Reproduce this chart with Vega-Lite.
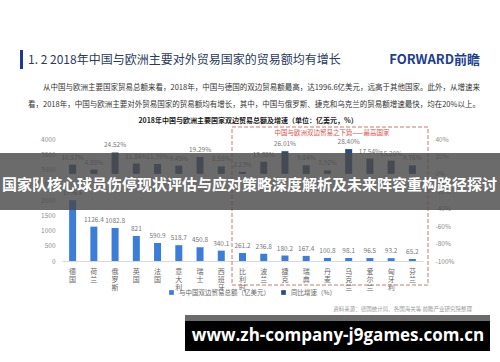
{
  "$schema": "https://vega.github.io/schema/vega-lite/v6.json",
  "width": 361,
  "height": 122,
  "autosize": "none",
  "padding": {"left": 62, "top": 139, "right": 77, "bottom": 101},
  "background": "white",
  "config": {
    "view": {"stroke": null},
    "font": "Noto Sans CJK SC",
    "axis": {"grid": false, "ticks": false, "title": null}
  },
  "data": {
    "values": [
      {"country": "德国", "trade": 1996.6, "growth": 10.57},
      {"country": "荷兰", "trade": 1126.4, "growth": 4.88},
      {"country": "俄罗斯", "trade": 1082.8, "growth": 24.52},
      {"country": "英国", "trade": 821, "growth": 11.84},
      {"country": "法国", "trade": 590.9, "growth": 11.39},
      {"country": "意大利", "trade": 518.7, "growth": 9.45},
      {"country": "瑞士", "trade": 450.8, "growth": 19.29},
      {"country": "西班牙", "trade": 340.1, "growth": 8.55},
      {"country": "比利时", "trade": 261.2, "growth": 2.23},
      {"country": "波兰", "trade": 236.8, "growth": 13.85},
      {"country": "捷克", "trade": 180.2, "growth": 26.01},
      {"country": "瑞典", "trade": 167.4, "growth": 9.84},
      {"country": "丹麦", "trade": 100.8, "growth": 3.92},
      {"country": "乌克兰", "trade": 98.1, "growth": 28.4},
      {"country": "爱尔兰", "trade": 96.5, "growth": 17.54},
      {"country": "匈牙利", "trade": 93.2, "growth": 15.2},
      {"country": "芬兰", "trade": 65.2, "growth": 9.76}
    ]
  },
  "resolve": {"scale": {"y": "independent"}, "axis": {"y": "independent"}},
  "layer": [
    {
      "layer": [
        {
          "mark": {"type": "bar", "width": 7},
          "encoding": {
            "x": {
              "field": "country", "type": "nominal", "sort": null,
              "scale": {"paddingInner": 0, "paddingOuter": 0},
              "axis": {
                "labelAngle": 0,
                "labelExpr": "split(datum.label, '')",
                "labelFontSize": 7,
                "labelLineHeight": 8,
                "labelColor": "#666666",
                "labelBaseline": "top",
                "labelPadding": 6,
                "domainColor": "#d9d9d9"
              }
            },
            "y": {
              "field": "trade", "type": "quantitative",
              "scale": {"domain": [0, 4000], "nice": false},
              "axis": {
                "orient": "left",
                "values": [0, 500, 1000, 1500, 2000, 2500, 3000, 3500, 4000],
                "format": "d",
                "domain": false,
                "labelFontSize": 6.5,
                "labelColor": "#8c8c8c",
                "labelPadding": 7
              }
            },
            "color": {
              "datum": "与中国双边贸易总额（亿美元）",
              "scale": {
                "domain": ["与中国双边贸易总额（亿美元）", "同比增速（%）"],
                "range": ["#3b7dd8", "#2d4b7c"]
              },
              "legend": {
                "orient": "none",
                "legendX": 106,
                "legendY": 150,
                "direction": "horizontal",
                "title": null,
                "symbolType": "square",
                "symbolSize": 22,
                "labelFontSize": 6.5,
                "labelColor": "#666666",
                "columnPadding": 10
              }
            }
          }
        },
        {
          "mark": {"type": "text", "baseline": "bottom", "dy": -4, "fontSize": 6.5, "color": "#777777"},
          "encoding": {
            "x": {"field": "country", "type": "nominal", "sort": null},
            "y": {
              "field": "trade", "type": "quantitative",
              "axis": {
                "orient": "left",
                "values": [0, 500, 1000, 1500, 2000, 2500, 3000, 3500, 4000],
                "format": "d",
                "domain": false,
                "labelFontSize": 6.5,
                "labelColor": "#8c8c8c",
                "labelPadding": 7
              }
            },
            "text": {"field": "trade", "type": "nominal"}
          }
        }
      ]
    },
    {
      "layer": [
        {
          "mark": {"type": "bar", "width": 7},
          "encoding": {
            "x": {"field": "country", "type": "nominal", "sort": null},
            "y": {
              "field": "growth", "type": "quantitative",
              "scale": {"domain": [-100, 40], "nice": false},
              "axis": {
                "orient": "right",
                "values": [-100, -80, -60, -40, -20, 0, 20, 40],
                "labelExpr": "datum.value + '%'",
                "domain": false,
                "labelFontSize": 6.5,
                "labelColor": "#8c8c8c",
                "labelPadding": 12
              }
            },
            "color": {"datum": "同比增速（%）"}
          }
        },
        {
          "transform": [{"calculate": "format(datum.growth, '.2f') + '%'", "as": "glabel"}],
          "mark": {"type": "text", "baseline": "bottom", "dy": -4, "fontSize": 6.5, "color": "#777777"},
          "encoding": {
            "x": {"field": "country", "type": "nominal", "sort": null},
            "y": {
              "field": "growth", "type": "quantitative",
              "axis": {
                "orient": "right",
                "values": [-100, -80, -60, -40, -20, 0, 20, 40],
                "labelExpr": "datum.value + '%'",
                "domain": false,
                "labelFontSize": 6.5,
                "labelColor": "#8c8c8c",
                "labelPadding": 12
              }
            },
            "text": {"field": "glabel"}
          }
        }
      ]
    },
    {
      "data": {"values": [{"t": "box"}]},
      "mark": {"type": "rect", "fill": null, "stroke": "#c9786f", "strokeWidth": 1, "strokeDash": [4, 2]},
      "encoding": {"x": {"value": 170}, "x2": {"value": 366}, "y": {"value": -12}, "y2": {"value": 146}}
    },
    {
      "data": {"values": [{"t": "中国与欧洲双边贸易之下篇——最高国家"}]},
      "mark": {"type": "text", "fontSize": 6.5, "color": "#d9534f", "align": "center", "baseline": "middle"},
      "encoding": {"x": {"value": 270}, "y": {"value": -6}, "text": {"field": "t"}}
    },
    {
      "data": {"values": [{"t": "2018年中国与欧洲主要国家双边贸易总额及增速（单位：亿美元，%）"}]},
      "mark": {"type": "text", "fontSize": 7, "fontWeight": "bold", "color": "#222222", "align": "center", "baseline": "middle"},
      "encoding": {"x": {"value": 186}, "y": {"value": -18}, "text": {"field": "t"}}
    },
    {
      "data": {"values": [{"t": "bar"}]},
      "mark": {"type": "rect", "color": "#1f3a93"},
      "encoding": {"x": {"value": -42}, "x2": {"value": -39}, "y": {"value": -89}, "y2": {"value": -70}}
    },
    {
      "data": {"values": [{"t": "1. 2  2018年中国与欧洲主要对外贸易国家的贸易额均有增长"}]},
      "mark": {"type": "text", "fontSize": 12, "color": "#2b3a5c", "align": "left", "baseline": "middle"},
      "encoding": {"x": {"value": -34}, "y": {"value": -79}, "text": {"field": "t"}}
    },
    {
      "data": {"values": [{"t": "FORWARD前瞻"}]},
      "mark": {"type": "text", "fontSize": 13, "fontWeight": "bold", "color": "#1d3d8f", "align": "right", "baseline": "middle"},
      "encoding": {"x": {"value": 418}, "y": {"value": -79}, "text": {"field": "t"}}
    },
    {
      "data": {"values": [{"t": "从中国与欧洲主要国家贸易总额来看，2018年，中国与德国的双边贸易额最高，达1996.6亿美元，远高于其他国家。此外，从增速来"}]},
      "mark": {"type": "text", "fontSize": 7.5, "color": "#333333", "align": "left", "baseline": "middle"},
      "encoding": {"x": {"value": -19}, "y": {"value": -51}, "text": {"field": "t"}}
    },
    {
      "data": {"values": [{"t": "看，2018年，中国与欧洲主要对外贸易国家的贸易额均有增长，其中，中国与俄罗斯、捷克和乌克兰的贸易额增速最快，均在20%以上。"}]},
      "mark": {"type": "text", "fontSize": 7.5, "color": "#333333", "align": "left", "baseline": "middle"},
      "encoding": {"x": {"value": -34}, "y": {"value": -34}, "text": {"field": "t"}}
    },
    {
      "data": {"values": [{"t": "资料来源：德国统计局、各国海关等 前瞻产业研究院整理"}]},
      "mark": {"type": "text", "fontSize": 5.5, "color": "#999999", "align": "right", "baseline": "middle"},
      "encoding": {"x": {"value": 410}, "y": {"value": 170}, "text": {"field": "t"}}
    },
    {
      "data": {"values": [{"t": "banner"}]},
      "mark": {"type": "rect", "color": "#4a4a4a", "opacity": 0.82},
      "encoding": {"x": {"value": -62}, "x2": {"value": 438}, "y": {"value": 14}, "y2": {"value": 71}}
    },
    {
      "data": {"values": [{"t": "国家队核心球员伤停现状评估与应对策略深度解析及未来阵容重构路径探讨"}]},
      "mark": {"type": "text", "fontSize": 15, "fontWeight": "bold", "color": "white", "align": "left", "baseline": "middle"},
      "encoding": {"x": {"value": -60}, "y": {"value": 46}, "text": {"field": "t"}}
    },
    {
      "data": {"values": [{"t": "strip"}]},
      "mark": {"type": "rect", "color": "#6b6b6b"},
      "encoding": {"x": {"value": 123}, "x2": {"value": 428}, "y": {"value": 176}, "y2": {"value": 182}}
    },
    {
      "data": {"values": [{"t": "box"}]},
      "mark": {"type": "rect", "color": "#000000"},
      "encoding": {"x": {"value": 123}, "x2": {"value": 428}, "y": {"value": 182}, "y2": {"value": 212}}
    },
    {
      "data": {"values": [{"t": "www.zh-company-j9games.com.cn"}]},
      "mark": {"type": "text", "font": "Open Sans", "fontSize": 17, "fontWeight": "bold", "color": "white", "align": "center", "baseline": "middle"},
      "encoding": {"x": {"value": 276}, "y": {"value": 197}, "text": {"field": "t"}}
    }
  ]
}
